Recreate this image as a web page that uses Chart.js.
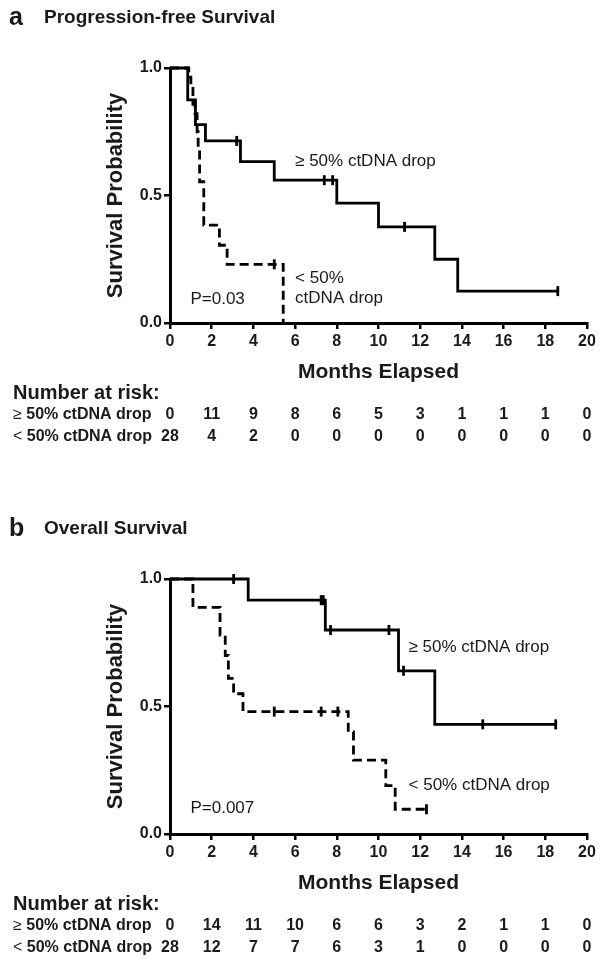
<!DOCTYPE html>
<html>
<head>
<meta charset="utf-8">
<script src="https://cdn.jsdelivr.net/npm/chart.js@4/dist/chart.umd.min.js"></script>
<style>
  html, body { margin: 0; padding: 0; background: #fff; }
  #wrap { position: relative; width: 605px; height: 963px; }
  canvas { position: absolute; left: 0; }
</style>
</head>
<body>
<div id="wrap">
  <canvas id="pfsChart" width="605" height="480" style="top:0"></canvas>
  <canvas id="osChart" width="605" height="483" style="top:480px"></canvas>
</div>
<script>
// ---- data ----
const riskTimes = [0, 2, 4, 6, 8, 10, 12, 14, 16, 18, 20];

// a: progression-free survival, steps as [month, survival]
const pfsHighX = [0, 0.85, 1.22, 1.7, 3.38, 5.0, 8.0, 10.0, 12.7, 13.8, 18.6];
const pfsHighY = [1, 0.875, 0.778, 0.714, 0.633, 0.56, 0.47, 0.377, 0.25, 0.125, 0.125];
const pfsHighCensor = [3.2, 7.4, 7.8, 11.25, 18.6];
const pfsLowX = [0, 0.9, 1.0, 1.1, 1.2, 1.3, 1.35, 1.42, 1.62, 2.37, 2.74, 5.43];
const pfsLowY = [1, 0.964, 0.929, 0.857, 0.821, 0.75, 0.679, 0.554, 0.384, 0.305, 0.23, 0];
const pfsLowCensor = [5.0];
const pfsRiskHigh = [0, 11, 9, 8, 6, 5, 3, 1, 1, 1, 0];
const pfsRiskLow = [28, 4, 2, 0, 0, 0, 0, 0, 0, 0, 0];

// b: overall survival
const osHighX = [0, 3.75, 7.45, 10.96, 12.7, 18.5];
const osHighY = [1, 0.917, 0.8, 0.64, 0.43, 0.43];
const osHighCensor = [3.05, 7.25, 7.35, 7.7, 10.5, 11.2, 15.0, 18.5];
const osLowX = [0, 1.1, 2.4, 2.65, 2.8, 3.05, 3.5, 8.55, 8.8, 10.35, 10.8, 12.3];
const osLowY = [1, 0.889, 0.78, 0.7, 0.61, 0.55, 0.48, 0.4, 0.29, 0.19, 0.097, 0.097];
const osLowCensor = [5.0, 7.25, 8.05, 12.3];
const osRiskHigh = [0, 14, 11, 10, 6, 6, 3, 2, 1, 1, 0];
const osRiskLow = [28, 12, 7, 7, 6, 3, 1, 0, 0, 0, 0];

const FONT = "'Liberation Sans', Arial, Helvetica, sans-serif";
const highLabel = "\u2265 50% ctDNA drop";
const lowLabel = "< 50% ctDNA drop";

function steps(xs, ys) {
  return xs.map((x, i) => ({ x: x, y: ys[i] }));
}

// survival value at time t for censor ticks
function survAt(xs, ys, t) {
  let v = ys[0];
  for (let i = 0; i < xs.length; i++) {
    if (xs[i] <= t) v = ys[i];
  }
  return v;
}

function censorPts(xs, ys, times) {
  return times.map(t => ({ x: t, y: survAt(xs, ys, t) }));
}

// row label: comparison sign in regular weight, rest bold
function rowLabel(ctx, sign, rest, x, y) {
  ctx.font = "16px " + FONT;
  ctx.fillText(sign, x, y);
  const w = ctx.measureText(sign + " ").width;
  ctx.font = "bold 16px " + FONT;
  ctx.fillText(rest, x + w, y);
}

// extra text: panel heading, annotations, number-at-risk table
const kmText = {
  id: "kmText",
  afterDraw(chart, args, opts) {
    const ctx = chart.ctx;
    const xs = chart.scales.x, ys = chart.scales.y;
    const area = chart.chartArea;
    ctx.save();
    ctx.fillStyle = "#1a1a1a";
    ctx.textBaseline = "middle";

    // heading
    ctx.textAlign = "left";
    ctx.font = "bold 25px " + FONT;
    ctx.fillText(opts.letter, 9, area.top - 50);
    ctx.font = "bold 19px " + FONT;
    ctx.fillText(opts.title, 44, area.top - 50);

    // annotations inside the plot
    ctx.font = "17px " + FONT;
    opts.notes.forEach(n => {
      ctx.fillText(n.text, xs.getPixelForValue(n.x), ys.getPixelForValue(n.y));
    });

    // number at risk
    const y0 = area.bottom + 70;
    ctx.font = "bold 20px " + FONT;
    ctx.fillText("Number at risk:", 13, y0);
    rowLabel(ctx, "\u2265", "50% ctDNA drop", 13, y0 + 22);
    rowLabel(ctx, "<", "50% ctDNA drop", 13, y0 + 44);
    ctx.font = "bold 16px " + FONT;
    ctx.textAlign = "center";
    riskTimes.forEach((t, i) => {
      const px = xs.getPixelForValue(t);
      ctx.fillText(String(opts.riskHigh[i]), px, y0 + 22);
      ctx.fillText(String(opts.riskLow[i]), px, y0 + 44);
    });
    ctx.restore();
  }
};

function makeChart(id, cfg) {
  const lineStyle = {
    type: "line",
    borderColor: "#000",
    borderWidth: 2.8,
    pointRadius: 0,
    stepped: "before",
    fill: false,
    clip: 6
  };
  const censorStyle = {
    type: "scatter",
    showLine: false,
    pointStyle: "line",
    rotation: 90,
    pointRadius: 5,
    borderColor: "#000",
    borderWidth: 2.8,
    clip: 8
  };
  return new Chart(document.getElementById(id), {
    type: "line",
    data: {
      datasets: [
        Object.assign({ label: highLabel, data: steps(cfg.highX, cfg.highY) }, lineStyle),
        Object.assign({ label: lowLabel, data: steps(cfg.lowX, cfg.lowY), borderDash: [9, 5] }, lineStyle),
        Object.assign({ label: "censor high", data: censorPts(cfg.highX, cfg.highY, cfg.highCensor) }, censorStyle),
        Object.assign({ label: "censor low", data: censorPts(cfg.lowX, cfg.lowY, cfg.lowCensor) }, censorStyle)
      ]
    },
    options: {
      responsive: false,
      animation: false,
      devicePixelRatio: 1,
      layout: { autoPadding: false, padding: cfg.padding },
      plugins: {
        legend: { display: false },
        tooltip: { enabled: false },
        kmText: {
          letter: cfg.letter,
          title: cfg.title,
          notes: cfg.notes,
          riskHigh: cfg.riskHigh,
          riskLow: cfg.riskLow
        }
      },
      scales: {
        x: {
          type: "linear",
          min: 0,
          max: 20,
          afterFit: s => { s.height = 62; },
          ticks: { stepSize: 2, color: "#1a1a1a", padding: 3, font: { family: FONT, size: 16, weight: "bold" } },
          grid: { drawOnChartArea: false, color: "#000", lineWidth: 2.5, tickLength: 6 },
          border: { color: "#000", width: 3 },
          title: {
            display: true,
            text: "Months Elapsed",
            color: "#1a1a1a",
            font: { family: FONT, size: 21, weight: "bold" },
            padding: { top: 0, bottom: 0 }
          }
        },
        y: {
          min: 0,
          max: 1,
          afterFit: s => { s.width = 170; },
          ticks: {
            stepSize: 0.5,
            color: "#1a1a1a",
            padding: 2,
            font: { family: FONT, size: 16, weight: "bold" },
            callback: v => v.toFixed(1)
          },
          grid: { drawOnChartArea: false, color: "#000", lineWidth: 2.5, tickLength: 6 },
          border: { color: "#000", width: 3 },
          title: {
            display: true,
            text: "Survival Probability",
            color: "#1a1a1a",
            font: { family: FONT, size: 22, weight: "bold" },
            padding: { top: 103, bottom: 0 }
          }
        }
      }
    },
    plugins: [kmText]
  });
}

makeChart("pfsChart", {
  letter: "a",
  title: "Progression-free Survival",
  highX: pfsHighX, highY: pfsHighY, highCensor: pfsHighCensor,
  lowX: pfsLowX, lowY: pfsLowY, lowCensor: pfsLowCensor,
  riskHigh: pfsRiskHigh, riskLow: pfsRiskLow,
  padding: { left: 0, right: 18, top: 68, bottom: 95 },
  notes: [
    { text: highLabel, x: 6.0, y: 0.636 },
    { text: "< 50%", x: 6.0, y: 0.176 },
    { text: "ctDNA drop", x: 6.0, y: 0.097 },
    { text: "P=0.03", x: 0.98, y: 0.093 }
  ]
});

makeChart("osChart", {
  letter: "b",
  title: "Overall Survival",
  highX: osHighX, highY: osHighY, highCensor: osHighCensor,
  lowX: osLowX, lowY: osLowY, lowCensor: osLowCensor,
  riskHigh: osRiskHigh, riskLow: osRiskLow,
  padding: { left: 0, right: 18, top: 99, bottom: 67 },
  notes: [
    { text: highLabel, x: 11.44, y: 0.733 },
    { text: lowLabel, x: 11.44, y: 0.192 },
    { text: "P=0.007", x: 0.98, y: 0.10 }
  ]
});
</script>
</body>
</html>
